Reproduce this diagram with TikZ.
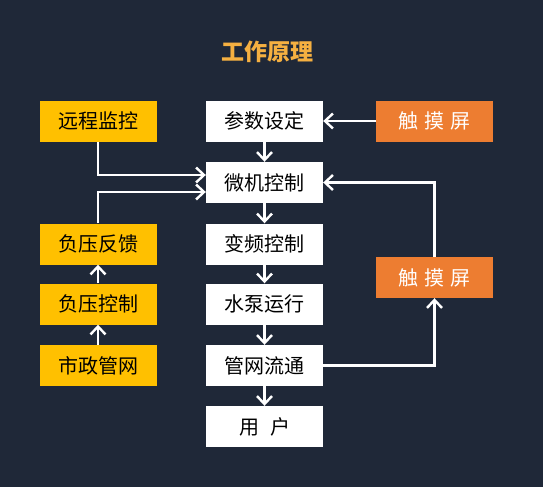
\documentclass[tikz,border=0pt]{standalone}
\usepackage{fontspec}
\newfontfamily\cjk{Noto Sans CJK SC}
\usetikzlibrary{arrows.meta,calc}
\definecolor{bg}{HTML}{1F2838}
\definecolor{ylw}{HTML}{FFC000}
\definecolor{org}{HTML}{ED7D31}
\definecolor{ttl}{HTML}{F5B041}
\begin{document}
\begin{tikzpicture}[x=1pt,y=-1pt,
  box/.style={minimum width=117pt,minimum height=41pt,inner sep=0pt,font=\cjk\fontsize{20}{20}\selectfont,text=black},
  wbox/.style={box,fill=white},
  ybox/.style={box,fill=ylw},
  obox/.style={box,fill=org,text=white},
  conn/.style={draw=white,line width=2.4pt,-{Straight Barb[length=8pt,width=15pt,line width=2.4pt]}}
]
\fill[bg] (0,0) rectangle (543,487);
\useasboundingbox (0,0) rectangle (543,487);
\node[text=ttl,font=\cjk\bfseries\fontsize{23}{23}\selectfont] (title) at (267,52) {工作原理};
\node[ybox] (remote) at (98,121) {远程监控};
\node[wbox] (param) at (264.5,121) {参数设定};
\node[obox] (touch1) at (434.5,121) {触\hspace{0.3em}摸\hspace{0.3em}屏};
\node[wbox] (micro) at (264.5,182.5) {微机控制};
\node[wbox] (freq) at (264.5,244) {变频控制};
\node[wbox] (pump) at (264.5,304) {水泵运行};
\node[wbox] (net) at (264.5,365.5) {管网流通};
\node[wbox] (user) at (264.5,426.5) {用\hspace{0.55em}户};
\node[obox] (touch2) at (434.5,277.5) {触\hspace{0.3em}摸\hspace{0.3em}屏};
\node[ybox] (fb) at (98,244) {负压反馈};
\node[ybox] (nc) at (98,304) {负压控制};
\node[ybox] (mun) at (98,365.5) {市政管网};
\draw[conn] (param) -- (micro);
\draw[conn] (micro) -- (freq);
\draw[conn] (freq) -- (pump);
\draw[conn] (pump) -- (net);
\draw[conn] (net) -- (user);
\draw[conn] (touch1) -- (param);
\draw[conn] (remote.south) |- ($(micro.west)+(0,-7.5)$);
\draw[conn] (fb.north) |- ($(micro.west)+(0,9.5)$);
\draw[conn] (net.east) -| (touch2.south);
\draw[conn] (touch2.north) |- (micro.east);
\draw[conn] (mun) -- (nc);
\draw[conn] (nc) -- (fb);
\end{tikzpicture}
\end{document}
